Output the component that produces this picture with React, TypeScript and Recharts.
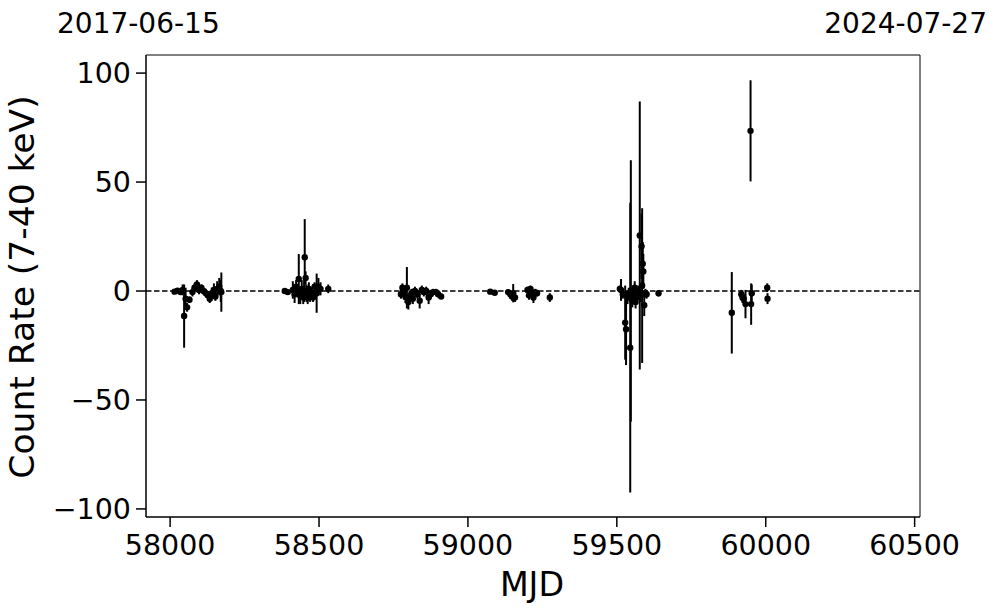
import {
	ErrorBar,
	ReferenceArea,
	ReferenceLine,
	Scatter,
	ScatterChart,
	XAxis,
	YAxis,
} from "recharts";

// MJD of each observation
const mjd = [
	58015, 58025, 58035, 58042, 58047, 58052, 58057, 58065, 58075, 58082, 58090,
	58097, 58105, 58112, 58120, 58127, 58133, 58140, 58147, 58152, 58158, 58165,
	58170, 58172,
	58385, 58395, 58412, 58418, 58423, 58428, 58432, 58437, 58442, 58447, 58450,
	58452, 58455, 58458, 58462, 58466, 58470, 58475, 58480, 58485, 58492, 58498,
	58505, 58531,
	58775, 58780, 58785, 58790, 58795, 58800, 58805, 58810, 58815, 58822, 58830,
	58838, 58845, 58852, 58860, 58868, 58875, 58883, 58893, 58900, 58910,
	59075, 59090, 59135, 59142, 59148, 59152, 59158, 59200, 59205, 59210, 59215,
	59220, 59226, 59232, 59275,
	59510, 59514, 59520, 59528, 59531, 59536, 59540, 59545, 59547, 59552, 59556,
	59560, 59563, 59567, 59572, 59577, 59580, 59583, 59585, 59587, 59589, 59592,
	59596, 59600, 59640,
	59886, 59918, 59922, 59926, 59932, 59949, 59951, 59953, 60005, 60006,
];

// count rate (7-40 keV)
const rate = [
	-0.3, 0.2, -0.5, 0.5, -11.5, -3.5, -7.5, -4, -0.5, 1.5, 3, 0.5, 1.5, 0, -1, -2,
	-3.5, -1, 0.5, -2.5, 1, 2, 0, -0.5,
	0, -0.5, 0.5, -1.5, 2, 0, 5.5, -2, 1, -3, 0, 15.5, 6, -1, -3, 1, -2, -0.5, -3,
	2, -1, 2, 1, 1,
	-1.5, 1.5, -1, -2.5, 1.5, -5, -3, -1, -3.5, 0, -1.5, -4.5, 0.5, -0.5, 0, -3,
	-1.5, -0.5, -0.5, -1.5, -2.5,
	-0.3, -0.8, -0.5, -1.5, -2.5, -1, -3, 0.5, -2, 1, -1.5, -3, -0.5, -1, -3,
	1, 0.5, -1.5, -14.5, -17.5, -3, -1, -26, 0, -4.5, -2, 1.5, -5, -3, 0, 25.5, -2,
	20.5, 2.5, 12.5, 9, -6.5, -1, -1.5, -1,
	-10, -1.5, -3, -3.5, -6, 73.5, -6, -1, 1.5, -3.5,
];

// 1-sigma errors
const err = [
	0.8, 0.8, 1, 2.5, 14.5, 5, 2, 1.5, 2, 2, 2, 2, 1.5, 1.5, 2, 2, 2, 2.5, 3, 2,
	3.5, 4, 5, 9,
	1, 1, 4, 4, 3, 3, 11.5, 4, 4, 3, 5, 17.5, 3, 4, 3, 3, 3, 2, 2, 2, 9, 4, 3, 2,
	2, 2, 3, 3, 9.5, 3.5, 2.5, 2, 2.5, 2, 2, 3.5, 2, 2, 2, 3, 2, 1.5, 1.5, 1.5, 1,
	0.8, 0.8, 1.2, 1.5, 2, 4.2, 2, 1.5, 2, 1.5, 2, 2.5, 1.5, 1.5, 2,
	1.5, 5, 2, 17, 16.5, 3, 2.5, 66.5, 60, 3, 3, 3, 3, 3, 2.5, 61.5, 3, 15, 35.5,
	10, 8, 5, 2, 2, 1.5,
	18.7, 2, 2.5, 2, 6.5, 23.2, 9.5, 4, 2, 2.5,
];

const xTicks = [58000, 58500, 59000, 59500, 60000, 60500];
const yTicks = [-100, -50, 0, 50, 100];
const startDate = "2017-06-15";
const endDate = "2024-07-27";

const data = mjd.map((m, i) => ({ mjd: m, rate: rate[i], err: err[i] }));

const font = "'DejaVu Sans', sans-serif";
const tickStyle = { fontSize: 28.5, fill: "#000", fontFamily: font };

function Dot(props: { cx?: number; cy?: number }) {
	const { cx, cy } = props;
	if (cx == null || cy == null) return null;
	return <circle cx={cx} cy={cy} r={3.2} fill="#000" />;
}

const minus = (v: number) => String(v).replace("-", "\u2212");

export default function App() {
	return (
		<div
			style={{
				position: "absolute",
				left: 0,
				top: 0,
				width: 997,
				height: 613,
				background: "#fff",
			}}
		>
			<ScatterChart
				width={997}
				height={613}
				margin={{ top: 55, right: 77, bottom: 0, left: 0 }}
			>
				<XAxis
					type="number"
					dataKey="mjd"
					domain={[57919, 60518]}
					ticks={xTicks}
					height={96}
					tick={tickStyle}
					tickSize={10}
					tickMargin={8}
					tickLine={{ stroke: "#000", strokeWidth: 1.5 }}
					axisLine={{ stroke: "#000" }}
					allowDataOverflow
				/>
				<YAxis
					type="number"
					dataKey="rate"
					domain={[-103.7, 108.3]}
					ticks={yTicks}
					width={146}
					tick={tickStyle}
					tickSize={10}
					tickMargin={5}
					tickFormatter={minus}
					tickLine={{ stroke: "#000", strokeWidth: 1.5 }}
					axisLine={{ stroke: "#000" }}
					allowDataOverflow
				/>
				<ReferenceArea
					x1={57919}
					x2={60518}
					y1={-103.7}
					y2={108.3}
					fill="none"
					stroke="#000"
					strokeWidth={1}
					fillOpacity={0}
				/>
				<ReferenceLine
					y={0}
					stroke="#000"
					strokeWidth={1.5}
					strokeDasharray="5.5 2.5"
				/>
				<Scatter data={data} shape={Dot} isAnimationActive={false}>
					<ErrorBar
						dataKey="err"
						direction="y"
						width={0}
						stroke="#000"
						strokeWidth={2}
						isAnimationActive={false}
					/>
				</Scatter>
			</ScatterChart>
			<svg
				width={997}
				height={613}
				style={{ position: "absolute", left: 0, top: 0, pointerEvents: "none" }}
				fontFamily={font}
			>
				<text x={57} y={33} fontSize={28} fill="#000">
					{startDate}
				</text>
				<text x={987} y={33} fontSize={28} fill="#000" textAnchor="end">
					{endDate}
				</text>
				<text x={532} y={596} fontSize={33.3} fill="#000" textAnchor="middle">
					MJD
				</text>
				<text
					x={34}
					y={287}
					fontSize={34.5}
					fill="#000"
					textAnchor="middle"
					transform="rotate(-90, 34, 287)"
				>
					Count Rate (7-40 keV)
				</text>
			</svg>
		</div>
	);
}
